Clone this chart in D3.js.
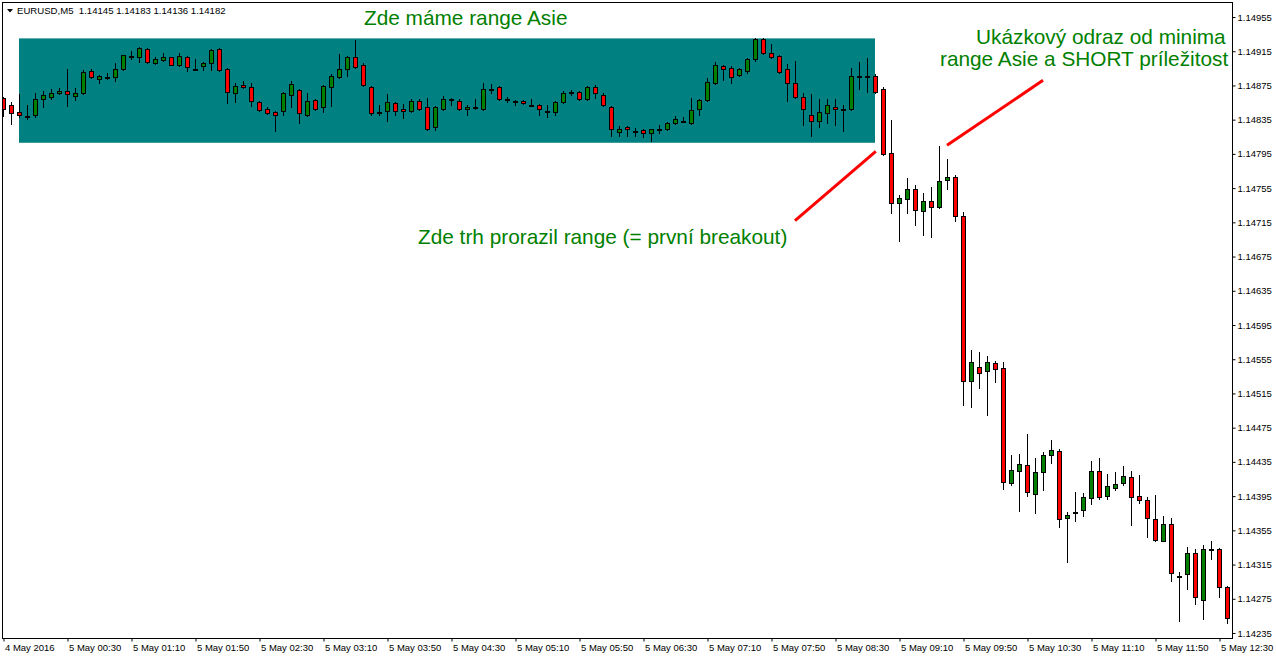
<!DOCTYPE html>
<html>
<head>
<meta charset="utf-8">
<script src="https://cdn.jsdelivr.net/npm/d3@7"></script>
<style>
html,body{margin:0;padding:0;background:#fff;}
svg{display:block;}
text{font-family:"Liberation Sans",Arial,sans-serif;}
</style>
</head>
<body>
<svg id="chart" width="1276" height="659"></svg>
<script>
// ---- data (EURUSD M5, 4 May 23:50 .. 5 May 12:35) ----
const opens = [
1.14860,1.14852,1.14844,1.14839,1.14840,1.14859,1.14861,1.14866,1.14869,1.14863,
1.14866,1.14892,1.14883,1.14885,1.14885,1.14894,1.14909,1.14908,1.14918,1.14901,
1.14905,1.14908,1.14899,1.14908,1.14894,1.14898,1.14901,1.14918,1.14894,1.14866,
1.14876,1.14873,1.14856,1.14847,1.14844,1.14845,1.14864,1.14870,1.14840,1.14858,
1.14850,1.14873,1.14885,1.14894,1.14908,1.14899,1.14873,1.14844,1.14845,1.14854,
1.14847,1.14845,1.14857,1.14850,1.14826,1.14847,1.14859,1.14857,1.14847,1.14850,
1.14847,1.14871,1.14873,1.14859,1.14857,1.14857,1.14852,1.14852,1.14845,1.14844,
1.14856,1.14867,1.14867,1.14859,1.14873,1.14864,1.14850,1.14821,1.14826,1.14822,
1.14823,1.14819,1.14824,1.14824,1.14831,1.14833,1.14831,1.14847,1.14858,1.14878,
1.14898,1.14895,1.14887,1.14892,1.14906,1.14929,1.14913,1.14909,1.14894,1.14878,
1.14861,1.14840,1.14833,1.14843,1.14850,1.14847,1.14847,1.14886,1.14886,1.14886,
1.14871,1.14796,1.14738,1.14742,1.14754,1.14728,1.14740,1.14733,1.14764,1.14768,
1.14722,1.14530,1.14546,1.14541,1.14551,1.14545,1.14410,1.14424,1.14431,1.14397,
1.14423,1.14443,1.14448,1.14369,1.14376,1.14379,1.14393,1.14424,1.14395,1.14404,
1.14410,1.14417,1.14395,1.14390,1.14368,1.14343,1.14362,1.14302,1.14304,1.14329,
1.14274,1.14333,1.14333,1.14289];
const highs = [
1.14861,1.14856,1.14865,1.14852,1.14866,1.14869,1.14871,1.14872,1.14894,1.14872,
1.14893,1.14894,1.14887,1.14890,1.14901,1.14911,1.14915,1.14920,1.14919,1.14908,
1.14913,1.14908,1.14913,1.14909,1.14906,1.14902,1.14918,1.14919,1.14895,1.14878,
1.14880,1.14878,1.14857,1.14850,1.14845,1.14867,1.14880,1.14871,1.14866,1.14859,
1.14876,1.14888,1.14912,1.14909,1.14928,1.14901,1.14874,1.14852,1.14865,1.14856,
1.14853,1.14859,1.14859,1.14860,1.14851,1.14863,1.14860,1.14859,1.14852,1.14859,
1.14878,1.14877,1.14874,1.14861,1.14858,1.14858,1.14859,1.14853,1.14852,1.14857,
1.14869,1.14870,1.14869,1.14874,1.14876,1.14866,1.14851,1.14828,1.14828,1.14825,
1.14824,1.14824,1.14829,1.14832,1.14839,1.14838,1.14860,1.14859,1.14884,1.14902,
1.14899,1.14898,1.14895,1.14907,1.14930,1.14930,1.14923,1.14911,1.14900,1.14904,
1.14866,1.14865,1.14859,1.14859,1.14859,1.14852,1.14895,1.14902,1.14907,1.14888,
1.14873,1.14835,1.14747,1.14767,1.14759,1.14749,1.14756,1.14804,1.14789,1.14770,
1.14727,1.14566,1.14563,1.14559,1.14553,1.14552,1.14443,1.14444,1.14468,1.14440,
1.14447,1.14461,1.14450,1.14376,1.14400,1.14399,1.14436,1.14440,1.14421,1.14423,
1.14430,1.14424,1.14420,1.14394,1.14396,1.14372,1.14369,1.14306,1.14336,1.14333,
1.14338,1.14343,1.14334,1.14290];
const lows = [
1.14839,1.14830,1.14838,1.14836,1.14838,1.14850,1.14859,1.14865,1.14851,1.14858,
1.14865,1.14884,1.14878,1.14883,1.14880,1.14893,1.14906,1.14902,1.14901,1.14900,
1.14904,1.14899,1.14898,1.14892,1.14893,1.14893,1.14893,1.14892,1.14854,1.14856,
1.14872,1.14851,1.14845,1.14842,1.14822,1.14840,1.14850,1.14831,1.14839,1.14846,
1.14844,1.14851,1.14884,1.14886,1.14895,1.14874,1.14840,1.14840,1.14833,1.14840,
1.14837,1.14844,1.14846,1.14823,1.14823,1.14846,1.14852,1.14846,1.14840,1.14847,
1.14846,1.14866,1.14858,1.14856,1.14852,1.14853,1.14851,1.14840,1.14838,1.14840,
1.14854,1.14864,1.14858,1.14858,1.14860,1.14851,1.14816,1.14816,1.14816,1.14816,
1.14815,1.14810,1.14819,1.14823,1.14830,1.14832,1.14830,1.14840,1.14857,1.14877,
1.14881,1.14878,1.14886,1.14890,1.14904,1.14912,1.14907,1.14890,1.14857,1.14860,
1.14829,1.14816,1.14826,1.14831,1.14829,1.14822,1.14846,1.14871,1.14867,1.14866,
1.14794,1.14726,1.14693,1.14726,1.14712,1.14700,1.14698,1.14732,1.14754,1.14717,
1.14501,1.14499,1.14521,1.14490,1.14528,1.14403,1.14408,1.14378,1.14395,1.14375,
1.14402,1.14434,1.14359,1.14318,1.14366,1.14372,1.14386,1.14392,1.14392,1.14402,
1.14408,1.14361,1.14387,1.14347,1.14343,1.14342,1.14296,1.14249,1.14286,1.14269,
1.14251,1.14321,1.14277,1.14247];
const closes = [
1.14847,1.14843,1.14840,1.14839,1.14859,1.14864,1.14866,1.14869,1.14865,1.14866,
1.14891,1.14885,1.14886,1.14885,1.14894,1.14911,1.14909,1.14919,1.14902,1.14906,
1.14908,1.14899,1.14909,1.14897,1.14894,1.14901,1.14916,1.14893,1.14867,1.14874,
1.14873,1.14857,1.14846,1.14843,1.14840,1.14866,1.14877,1.14843,1.14857,1.14847,
1.14874,1.14886,1.14894,1.14908,1.14897,1.14876,1.14843,1.14844,1.14856,1.14845,
1.14845,1.14857,1.14847,1.14824,1.14850,1.14859,1.14859,1.14847,1.14850,1.14850,
1.14871,1.14871,1.14859,1.14859,1.14857,1.14854,1.14852,1.14847,1.14845,1.14856,
1.14866,1.14867,1.14859,1.14873,1.14866,1.14852,1.14824,1.14824,1.14824,1.14822,
1.14819,1.14824,1.14824,1.14831,1.14836,1.14833,1.14846,1.14858,1.14879,1.14899,
1.14894,1.14885,1.14894,1.14906,1.14929,1.14913,1.14908,1.14891,1.14878,1.14861,
1.14847,1.14833,1.14844,1.14852,1.14847,1.14847,1.14886,1.14886,1.14886,1.14867,
1.14795,1.14738,1.14743,1.14754,1.14729,1.14740,1.14733,1.14763,1.14768,1.14722,
1.14530,1.14552,1.14539,1.14552,1.14544,1.14411,1.14426,1.14433,1.14400,1.14423,
1.14443,1.14449,1.14368,1.14373,1.14376,1.14394,1.14424,1.14394,1.14407,1.14409,
1.14419,1.14394,1.14390,1.14369,1.14344,1.14362,1.14305,1.14302,1.14329,1.14277,
1.14333,1.14333,1.14289,1.14253];

const priceTicks = [1.14955,1.14915,1.14875,1.14835,1.14795,1.14755,1.14715,1.14675,1.14635,1.14595,
  1.14555,1.14515,1.14475,1.14435,1.14395,1.14355,1.14315,1.14275,1.14235];
const timeLabels = ["4 May 2016","5 May 00:30","5 May 01:10","5 May 01:50","5 May 02:30","5 May 03:10",
  "5 May 03:50","5 May 04:30","5 May 05:10","5 May 05:50","5 May 06:30","5 May 07:10","5 May 07:50",
  "5 May 08:30","5 May 09:10","5 May 09:50","5 May 10:30","5 May 11:10","5 May 11:50","5 May 12:30"];
const timeLabelIdx = timeLabels.map((d,i)=>i*8);

const headerText = "EURUSD,M5  1.14145 1.14183 1.14136 1.14182";
// Asia range rectangle: candle index range and price range
const rangeBox = {i0:2, i1:109, top:1.14930, bottom:1.14808};
// annotation lines in (candle index, price)
const arrows = [
  [[99, 1.14717],[109.1, 1.14798]],
  [[118, 1.14805],[130, 1.14881]]
];

// ---- layout ----
const W = 1276, H = 659;
const frame = {l:2.5, t:2.5, r:1232.5, b:638.5};
const svg = d3.select("#chart");
const x = d3.scaleLinear().domain([0, 153]).range([3, 1227]);
const y = d3.scaleLinear().domain([1.14235, 1.14955]).range([633, 17]);

const candles = opens.map((o,i)=>({i, o, h:highs[i], l:lows[i], c:closes[i]}));

svg.append("defs").append("clipPath").attr("id","plotclip")
  .append("rect").attr("x",frame.l).attr("y",frame.t)
  .attr("width",frame.r-frame.l).attr("height",frame.b-frame.t);

const plot = svg.append("g").attr("clip-path","url(#plotclip)");

// range box
plot.append("rect")
  .attr("x", x(rangeBox.i0)).attr("y", y(rangeBox.top))
  .attr("width", x(rangeBox.i1)-x(rangeBox.i0))
  .attr("height", y(rangeBox.bottom)-y(rangeBox.top))
  .attr("fill", "#008080");

// candles
const cg = plot.append("g");
cg.selectAll("line.wick").data(candles).join("line")
  .attr("class","wick")
  .attr("x1", d=>x(d.i)+0.5).attr("x2", d=>x(d.i)+0.5)
  .attr("y1", d=>Math.round(y(d.h))).attr("y2", d=>Math.round(y(d.l))+1)
  .attr("stroke","#000").attr("stroke-width",1);
cg.selectAll("rect.body").data(candles).join("rect")
  .attr("class","body")
  .attr("x", d=>x(d.i)-1.5)
  .attr("width", 4)
  .attr("y", d=>Math.round(y(Math.max(d.o,d.c)))+0.5)
  .attr("height", d=>Math.max(1, Math.round(y(Math.min(d.o,d.c))) - Math.round(y(Math.max(d.o,d.c)))))
  .attr("fill", d=> d.c>d.o ? "#008000" : (d.c<d.o ? "#ff0000" : "#000"))
  .attr("stroke","#000").attr("stroke-width",1);

// annotation lines
plot.selectAll("line.arrow").data(arrows).join("line")
  .attr("class","arrow")
  .attr("x1", d=>x(d[0][0])).attr("y1", d=>y(d[0][1]))
  .attr("x2", d=>x(d[1][0])).attr("y2", d=>y(d[1][1]))
  .attr("stroke","#ff0000").attr("stroke-width",3);

// annotation texts
const tcol = "#008000";
const ann = [
  {t:"Zde máme range Asie", x:364, y:25},
  {t:"Ukázkový odraz od minima", x:976, y:44},
  {t:"range Asie a SHORT príležitost", x:940, y:66},
  {t:"Zde trh prorazil range (= první breakout)", x:418, y:244}
];
svg.selectAll("text.ann").data(ann).join("text")
  .attr("class","ann")
  .attr("x", d=>d.x).attr("y", d=>d.y)
  .attr("fill", tcol).style("font-size","20.8px")
  .text(d=>d.t);

// frame
svg.append("rect")
  .attr("x",frame.l).attr("y",frame.t)
  .attr("width",frame.r-frame.l).attr("height",frame.b-frame.t)
  .attr("fill","none").attr("stroke","#000").attr("stroke-width",1);

// header
svg.append("path").attr("d","M7,9 L13,9 L10,12.5 Z").attr("fill","#000");
svg.append("text").attr("x",17).attr("y",14).style("font-size","9.6px").attr("fill","#000")
  .attr("xml:space","preserve").style("white-space","pre")
  .text(headerText);

// price axis
const ay = d3.axisRight(y).tickValues(priceTicks).tickFormat(d=>d.toFixed(5))
  .tickSize(3).tickSizeOuter(0).tickPadding(2);
const gy = svg.append("g").attr("transform",`translate(${frame.r},0)`).call(ay);
gy.select(".domain").remove();
gy.selectAll("line").attr("stroke","#000");
gy.selectAll("text").style("font-size","9.5px").style("font-family","'Liberation Sans',Arial,sans-serif").attr("fill","#000");

// time axis
const ax = d3.axisBottom(x).tickValues(timeLabelIdx).tickFormat((d,i)=>timeLabels[i])
  .tickSize(3).tickSizeOuter(0).tickPadding(3);
const gx = svg.append("g").attr("transform",`translate(0.5,${frame.b})`).call(ax);
gx.select(".domain").remove();
gx.selectAll("line").attr("stroke","#000");
gx.selectAll("text").attr("text-anchor","start").attr("dx", 1)
  .style("font-size","9.5px").style("font-family","'Liberation Sans',Arial,sans-serif").attr("fill","#000");
</script>
</body>
</html>
